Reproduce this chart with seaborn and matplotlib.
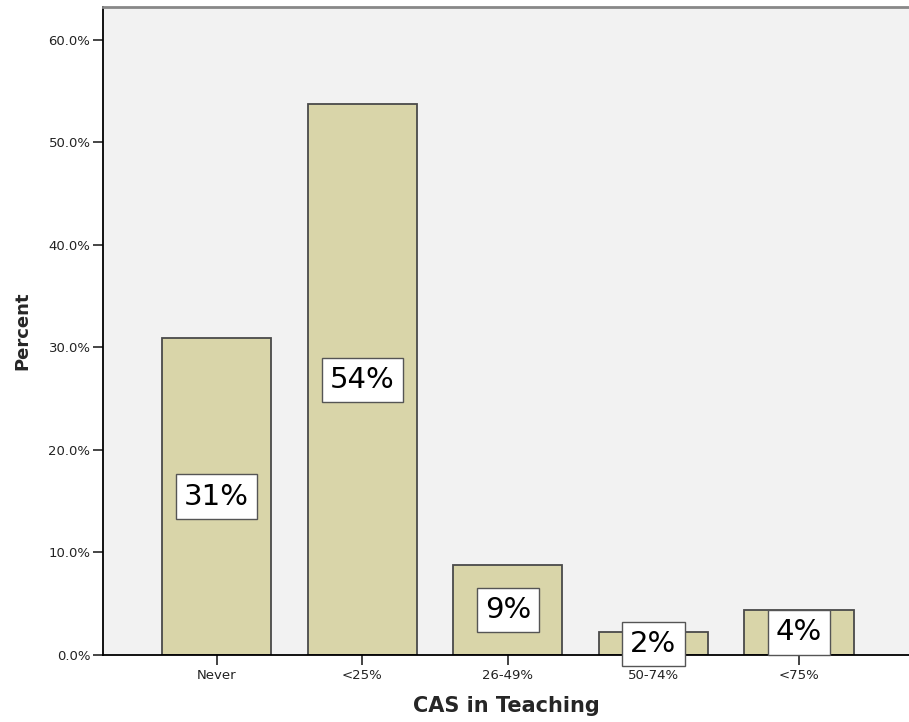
import pandas as pd
import matplotlib
matplotlib.use("Agg")
import matplotlib.pyplot as plt
import seaborn as sns

categories = ["Never", "<25%", "26-49%", "50-74%", "<75%"]
percents = [30.9, 53.7, 8.8, 2.2, 4.4]
bar_labels = ["31%", "54%", "9%", "2%", "4%"]
y_ticks = [0, 10, 20, 30, 40, 50, 60]

df = pd.DataFrame({"CAS in Teaching": categories, "Percent": percents})

sns.set_style("white")
plt.rcParams["font.family"] = ["DejaVu Sans"]

fig = plt.figure(figsize=(9.09, 7.22), dpi=100)
ax = fig.add_axes([0.1133, 0.0928, 0.8867, 0.8975])
ax.set_facecolor("#F2F2F2")

sns.barplot(
    data=df, x="CAS in Teaching", y="Percent", order=categories,
    color="#D9D5A9", edgecolor="#4a4a4a", linewidth=1.3, width=0.75,
    saturation=1, ax=ax
)

# value boxes centred on each bar
for i, (v, lab) in enumerate(zip(percents, bar_labels)):
    ax.text(i, v / 2, lab, ha="center", va="center", fontsize=21, color="black",
            bbox=dict(boxstyle="square,pad=0.28", facecolor="white",
                      edgecolor="#555555", linewidth=1.0))

ax.set_xlim(-0.78, 4.755)
ax.set_ylim(0, 63.2)
ax.set_yticks(y_ticks)
ax.set_yticklabels([f"{t:.1f}%" for t in y_ticks], fontsize=9.5, color="#222222")
ax.tick_params(axis="x", labelsize=9.5, colors="#222222", length=7, width=1.2, pad=3)
ax.tick_params(axis="y", length=7, width=1.2, pad=2, left=True)
ax.tick_params(axis="x", bottom=True)

ax.set_xlabel("CAS in Teaching", fontsize=15, fontweight="bold", labelpad=10)
ax.set_ylabel("Percent", fontsize=13, fontweight="bold", labelpad=12)

for side in ["left", "bottom"]:
    ax.spines[side].set_color("black")
    ax.spines[side].set_linewidth(1.3)
ax.spines["top"].set_color("#888888")
ax.spines["top"].set_linewidth(2)
ax.spines["right"].set_visible(False)

fig.savefig("out.png", dpi=100)
